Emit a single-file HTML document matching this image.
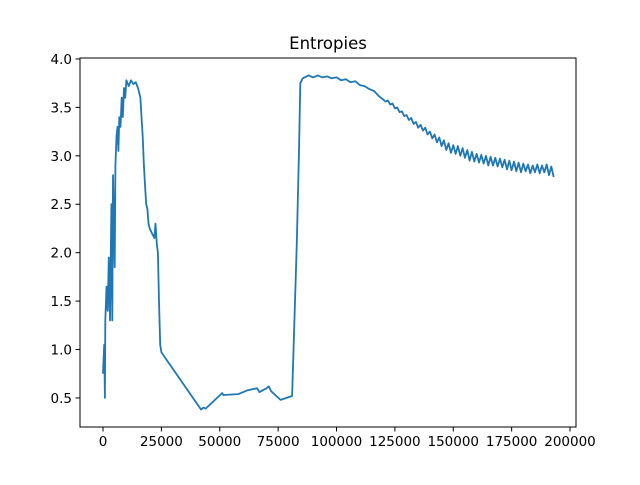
<!DOCTYPE html>
<html><head><meta charset="utf-8"><style>
body{margin:0;background:#fff;}
svg text{font-family:"DejaVu Sans","Liberation Sans",sans-serif;fill:#000;}
</style></head><body>
<svg id="chart" width="640" height="480" viewBox="0 0 640 480">
<rect width="640" height="480" fill="#fff"/>
<text x="328" y="49" font-size="16.5" text-anchor="middle">Entropies</text>
<g id="plot"></g>
<rect x="80" y="58" width="496" height="369" fill="none" stroke="#000" stroke-width="1"/>
<g id="xticks"></g><g id="yticks"></g>
</svg>
<script>
const xTicks=[0,25000,50000,75000,100000,125000,150000,175000,200000];
const yTicks=[0.5,1.0,1.5,2.0,2.5,3.0,3.5,4.0];
const stepsX=[0,500,800,1000,1500,2000,2500,3000,3300,3600,4000,4300,4700,5000,5300,5800,6200,6600,7000,7500,8000,8500,9000,9500,10000,11000,12000,13000,14000,15000,16000,16500,17000,17500,18000,18500,19000,19500,20000,21000,22000,22500,23000,23500,24000,24500,25000,42000,43000,44000,51000,51500,58000,62000,66000,67000,70000,71000,72000,76000,81000,83000,84000,84500,85500,88000,90000,92000,94000,96000,98000,100000,102000,104000,106000,108000,110000,112000,114000,116000,118000,
120000,121000,122000,123000,124000,125000,126000,127000,128000,129000,130000,131000,132000,133000,134000,135000,136000,137000,138000,139000,140000,141000,142000,143000,144000,145000,146000,147000,148000,149000,150000,151000,152000,153000,154000,155000,156000,157000,158000,159000,160000,161000,162000,163000,164000,165000,166000,167000,168000,169000,170000,171000,172000,173000,174000,175000,176000,177000,178000,179000,180000,181000,182000,183000,184000,185000,186000,187000,188000,189000,190000,191000,192000,193000];
const entropy=[0.75,1.05,0.5,1.3,1.65,1.4,1.95,1.3,1.9,2.5,1.3,2.8,2.2,1.85,2.9,3.2,3.3,3.05,3.4,3.3,3.6,3.4,3.7,3.6,3.78,3.72,3.78,3.74,3.76,3.7,3.6,3.4,3.2,2.9,2.7,2.5,2.45,2.3,2.25,2.2,2.15,2.3,2.1,2.0,1.5,1.05,0.97,0.38,0.4,0.39,0.55,0.53,0.54,0.58,0.6,0.56,0.6,0.62,0.57,0.48,0.52,2.1,3.1,3.75,3.8,3.83,3.81,3.83,3.81,3.82,3.8,3.81,3.78,3.79,3.76,3.77,3.73,3.72,3.69,3.67,3.62,
3.58,3.56,3.57,3.53,3.54,3.49,3.5,3.45,3.46,3.41,3.42,3.37,3.39,3.33,3.35,3.29,3.32,3.26,3.29,3.22,3.25,3.18,3.22,3.14,3.19,3.1,3.16,3.06,3.13,3.03,3.11,3.02,3.1,3.0,3.08,2.98,3.06,2.95,3.04,2.94,3.02,2.93,3.01,2.92,3.0,2.9,2.99,2.9,2.98,2.89,2.97,2.88,2.96,2.86,2.95,2.85,2.94,2.84,2.93,2.83,2.92,2.84,2.91,2.82,2.9,2.83,2.91,2.82,2.9,2.83,2.91,2.8,2.89,2.78];
const X0=-9850,X1=202560,Y0=0.200,Y1=4.010;
const L=80,R=576,T=58,B=427;
const sx=v=>L+(v-X0)/(X1-X0)*(R-L);
const sy=v=>B-(v-Y0)/(Y1-Y0)*(B-T);
const NS="http://www.w3.org/2000/svg";
const plot=document.getElementById('plot');
const pl=document.createElementNS(NS,'polyline');
pl.setAttribute('points',stepsX.map((x,i)=>sx(x).toFixed(1)+','+sy(entropy[i]).toFixed(1)).join(' '));
pl.setAttribute('fill','none');pl.setAttribute('stroke','#1f77b4');pl.setAttribute('stroke-width','1.8');pl.setAttribute('stroke-linejoin','round');


plot.appendChild(pl);
const xg=document.getElementById('xticks');
xTicks.forEach(v=>{const x=sx(v);
const l=document.createElementNS(NS,'line');l.setAttribute('x1',x);l.setAttribute('x2',x);l.setAttribute('y1',B);l.setAttribute('y2',B+4.5);l.setAttribute('stroke','#000');


xg.appendChild(l);
const t=document.createElementNS(NS,'text');t.setAttribute('x',x);t.setAttribute('y',B+19);t.setAttribute('font-size','13.5');t.setAttribute('text-anchor','middle');t.textContent=String(v);


xg.appendChild(t);});
const yg=document.getElementById('yticks');
yTicks.forEach(v=>{const y=sy(v);
const l=document.createElementNS(NS,'line');l.setAttribute('x1',L-4.5);l.setAttribute('x2',L);l.setAttribute('y1',y);l.setAttribute('y2',y);l.setAttribute('stroke','#000');


yg.appendChild(l);
const t=document.createElementNS(NS,'text');t.setAttribute('x',L-8);t.setAttribute('y',y+5);t.setAttribute('font-size','13.5');t.setAttribute('text-anchor','end');t.textContent=v.toFixed(1);


yg.appendChild(t);});
</script>
</body></html>
